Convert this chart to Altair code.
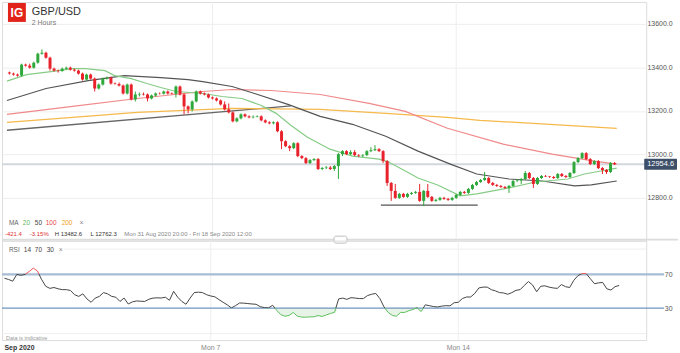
import altair as alt
import pandas as pd

GREEN = "#2fa83b"
RED = "#e8222a"

# ---- 2-hour GBP/USD bars (index 0 = Mon 31 Aug 2020 20:00) ----
first_open = 13376.0
closes = [13371.4, 13366.9, 13362.3, 13412.6, 13408.0, 13398.9, 13421.7, 13462.9, 13467.4, 13444.6,
          13394.3, 13385.1, 13382.9, 13394.3, 13398.9, 13389.7, 13385.1, 13371.4, 13344.0, 13366.9,
          13348.6, 13302.9, 13321.1, 13348.6, 13353.1, 13325.7, 13323.4, 13316.6, 13280.0, 13321.1,
          13252.6, 13275.4, 13277.7, 13275.4, 13257.1, 13270.9, 13280.0, 13279.0, 13289.1, 13280.0,
          13277.7, 13312.0, 13275.4, 13220.6, 13206.9, 13243.4, 13289.1, 13280.0, 13275.4, 13261.7,
          13257.1, 13248.0, 13229.7, 13206.9, 13193.1, 13152.0, 13165.7, 13184.0, 13174.9, 13170.3,
          13172.6, 13174.9, 13156.6, 13147.4, 13142.9, 13147.4, 13106.3, 13060.6, 13037.7, 13028.6,
          13051.4, 12992.0, 12982.9, 12960.0, 12973.7, 12978.3, 12932.6, 12937.1, 12939.4, 12932.6,
          12946.3, 13001.1, 13014.9, 13001.1, 13010.3, 12996.6, 12994.3, 12996.6, 13014.9, 13019.4,
          13024.0, 13014.9, 12969.1, 12868.6, 12832.0, 12800.0, 12818.3, 12804.6, 12818.3, 12822.9,
          12827.4, 12786.3, 12832.0, 12804.6, 12786.3, 12790.9, 12800.0, 12795.4, 12790.9, 12800.0,
          12813.7, 12827.4, 12822.9, 12841.1, 12859.4, 12873.1, 12882.3, 12891.4, 12868.6, 12859.4,
          12854.9, 12850.3, 12845.7, 12854.9, 12877.7, 12880.0, 12886.9, 12914.3, 12891.4, 12864.0,
          12891.4, 12900.6, 12898.3, 12896.0, 12891.4, 12909.7, 12900.6, 12896.0, 12914.3, 12964.6,
          12982.9, 13005.7, 12978.3, 12955.4, 12969.1, 12937.1, 12928.0, 12918.9, 12960.0, 12954.6]
highs = [13380.6, 13376.0, 13371.4, 13417.1, 13417.1, 13417.1, 13426.3, 13467.4, 13482.6, 13472.0,
         13449.1, 13398.9, 13389.7, 13398.9, 13403.4, 13403.4, 13394.3, 13389.7, 13376.0, 13371.4,
         13371.4, 13353.1, 13325.7, 13353.1, 13357.7, 13357.7, 13330.3, 13330.3, 13321.1, 13325.7,
         13325.7, 13289.1, 13284.6, 13284.6, 13280.0, 13275.4, 13284.6, 13284.6, 13293.7, 13293.7,
         13284.6, 13316.6, 13316.6, 13280.0, 13225.1, 13248.0, 13293.7, 13293.7, 13284.6, 13280.0,
         13266.3, 13261.7, 13252.6, 13243.4, 13234.3, 13197.7, 13170.3, 13188.6, 13188.6, 13179.4,
         13179.4, 13179.4, 13179.4, 13161.1, 13152.0, 13152.0, 13152.0, 13110.9, 13065.1, 13042.3,
         13056.0, 13056.0, 12996.6, 12987.4, 12978.3, 12982.9, 12982.9, 12941.7, 12946.3, 12946.3,
         12950.9, 13005.7, 13019.4, 13019.4, 13019.4, 13019.4, 13001.1, 13001.1, 13019.4, 13033.1,
         13042.3, 13028.6, 13019.4, 12973.7, 12873.1, 12864.0, 12822.9, 12822.9, 12822.9, 12827.4,
         12832.0, 12864.0, 12836.6, 12864.0, 12809.1, 12795.4, 12804.6, 12804.6, 12800.0, 12804.6,
         12818.3, 12832.0, 12832.0, 12845.7, 12864.0, 12877.7, 12886.9, 12918.9, 12896.0, 12873.1,
         12864.0, 12859.4, 12854.9, 12859.4, 12882.3, 12886.9, 12891.4, 12923.4, 12918.9, 12896.0,
         12896.0, 12905.1, 12905.1, 12900.6, 12900.6, 12914.3, 12914.3, 12905.1, 12918.9, 12969.1,
         12987.4, 13010.3, 13010.3, 12982.9, 12973.7, 12973.7, 12941.7, 12932.6, 12964.6, 12964.6]
lows = [13366.9, 13362.3, 13357.7, 13357.7, 13403.4, 13394.3, 13394.3, 13417.1, 13458.3, 13440.0,
        13385.1, 13380.6, 13376.0, 13380.6, 13389.7, 13385.1, 13380.6, 13366.9, 13339.4, 13339.4,
        13344.0, 13289.1, 13298.3, 13316.6, 13344.0, 13321.1, 13321.1, 13312.0, 13275.4, 13275.4,
        13248.0, 13243.4, 13266.3, 13270.9, 13243.4, 13252.6, 13266.3, 13275.4, 13275.4, 13275.4,
        13275.4, 13261.7, 13270.9, 13184.0, 13188.6, 13197.7, 13238.9, 13275.4, 13270.9, 13257.1,
        13252.6, 13243.4, 13225.1, 13202.3, 13188.6, 13147.4, 13147.4, 13161.1, 13170.3, 13165.7,
        13165.7, 13170.3, 13152.0, 13142.9, 13138.3, 13138.3, 13101.7, 13024.0, 13033.1, 13014.9,
        13024.0, 12987.4, 12978.3, 12955.4, 12955.4, 12969.1, 12928.0, 12928.0, 12932.6, 12928.0,
        12923.4, 12886.9, 12992.0, 12996.6, 12996.6, 12992.0, 12987.4, 12987.4, 12992.0, 13010.3,
        13014.9, 13010.3, 12960.0, 12854.9, 12786.3, 12795.4, 12795.4, 12800.0, 12800.0, 12813.7,
        12818.3, 12781.7, 12762.3, 12800.0, 12781.7, 12781.7, 12786.3, 12790.9, 12786.3, 12786.3,
        12795.4, 12809.1, 12818.3, 12818.3, 12836.6, 12854.9, 12868.6, 12877.7, 12864.0, 12854.9,
        12850.3, 12845.7, 12841.1, 12822.9, 12850.3, 12873.1, 12864.0, 12882.3, 12886.9, 12845.7,
        12859.4, 12886.9, 12896.0, 12891.4, 12886.9, 12886.9, 12896.0, 12891.4, 12891.4, 12909.7,
        12960.0, 12978.3, 12973.7, 12950.9, 12950.9, 12932.6, 12909.7, 12909.7, 12914.3, 12950.9]
rsi = [65.5, 64, 62, 70, 69, 70, 73.5, 77.5, 74, 64,
       56, 53.5, 54.5, 53, 52, 52, 51, 46, 44, 47,
       41, 37, 42, 44, 48.5, 47, 44, 43, 38, 42,
       35, 37.5, 38.6, 38.3, 38, 40.6, 42, 42.3, 42.1, 43,
       39.4, 50, 43, 38, 34.7, 42, 48.5, 49, 48.5, 46,
       44.5, 43.5, 40.2, 37, 34, 30.4, 33, 36.2, 36, 35.5,
       35, 34.7, 31.8, 30.8, 30.4, 33.5, 27.5, 22.3, 20.5, 21.5,
       25, 20.6, 19.5, 19.3, 19.8, 19.8, 21.3, 20.3, 22, 23.8,
       25, 41, 42, 40.5, 42.5, 42, 41.4, 41.4, 45, 46.5,
       47.5, 41.4, 31.5, 25, 21.5, 20.5, 25, 25, 27, 28.5,
       30.5, 26, 34, 33, 32, 31.5, 32.5, 33, 32.8, 36.5,
       37, 41.5, 43.3, 43.3, 47.5, 54, 55, 55, 52, 50.5,
       48.5, 48, 46.5, 48.5, 51.2, 52, 57, 61.5, 57.5, 49.5,
       56, 56.5, 55, 54, 53.5, 58, 55.5, 54.5, 63, 68.5,
       71, 71, 65, 59, 60, 60.5, 53, 51.5, 55.5, 57]

# ---- moving averages read at sampled bar positions ----
ma20_i = [-0.6, 4.22, 10.24, 15.54, 18.68, 23.5, 25.91, 30.0, 33.86, 37.23, 41.09, 47.59, 52.41,
          57.23, 62.05, 65.67, 69.28, 73.38, 78.92, 84.46, 90.97, 93.37, 97.47, 100.6, 105.42,
          110.97, 115.06, 123.01, 129.52, 137.47, 141.57, 145.67, 149.52]
ma20_p = [13337.1, 13366.9, 13380.6, 13394.3, 13394.3, 13385.1, 13362.3, 13348.6, 13325.7, 13307.4,
          13289.1, 13280.0, 13266.3, 13257.1, 13225.1, 13188.6, 13133.7, 13078.9, 13024.0, 12992.0,
          12978.3, 12964.6, 12923.4, 12891.4, 12859.4, 12809.1, 12818.3, 12845.7, 12873.1, 12886.9,
          12909.7, 12923.4, 12937.1]
ma50_i = [-0.6, 9.04, 19.4, 28.32, 37.23, 43.98, 47.59, 54.82, 60.36, 68.56, 76.51, 84.46, 92.65,
          100.6, 108.56, 115.06, 123.01, 131.21, 139.16, 143.26, 149.52]
ma50_p = [13248.0, 13302.9, 13339.4, 13362.3, 13353.1, 13344.0, 13334.9, 13312.0, 13280.0, 13229.7,
          13174.9, 13138.3, 13083.4, 13014.9, 12955.4, 12909.7, 12886.9, 12877.7, 12854.9, 12859.4,
          12877.7]
ma100_i = [-0.6, 15.54, 31.45, 47.59, 54.82, 64.46, 76.51, 88.56, 97.47, 107.83, 121.57, 133.61,
           143.98, 149.52]
ma100_p = [13184.0, 13220.6, 13257.1, 13289.1, 13298.3, 13293.7, 13275.4, 13234.3, 13197.7, 13120.0,
           13046.9, 13001.1, 12969.1, 12955.4]
ma200_i = [-0.6, 15.54, 31.45, 54.82, 76.51, 92.65, 107.83, 115.8, 149.52]
ma200_p = [13147.4, 13170.3, 13193.1, 13211.4, 13206.9, 13188.6, 13170.3, 13156.6, 13120.0]

trend_i = [-0.6, 69.28]
trend_p = [13110.9, 13222.9]
support_i = [91.45, 115.3]
support_p = 12766.6
last_price = 12954.6

price_ticks = [12800, 13000, 13200, 13400, 13600]
rsi_ticks = [30, 70]
day_ticks = [50, 110]
day_labels = ["Mon 7", "Mon 14"]

N = len(closes)
assert len(highs) == N and len(lows) == N and len(rsi) == N

FONT = "Liberation Sans"
W = 648
H_TOP = 240
H_RSI = 100

xs = alt.Scale(domain=[-0.6, 155.55], nice=False, zero=False)
ys = alt.Scale(domain=[12603.4, 13700.6], nice=False, zero=False)
rs = alt.Scale(domain=[-7.65, 110], nice=False, zero=False)

yax = alt.Axis(orient="right", values=price_ticks, format=".1f", labelPadding=26, labelAlign="right",
               labelFontSize=7, labelColor="#555555", domain=False, ticks=False, grid=True,
               gridColor="#eeeeee", gridWidth=1, title=None, labelFont=FONT)
rax = alt.Axis(orient="right", values=rsi_ticks, format="d", labelPadding=26, labelAlign="right",
               labelFontSize=7, labelColor="#555555", domain=False, ticks=False, grid=False,
               title=None, labelFont=FONT)


def X(field="i"):
    return alt.X(f"{field}:Q", scale=xs, axis=None)


def Y(field):
    return alt.Y(f"{field}:Q", scale=ys, axis=yax)


def RY(field):
    return alt.Y(f"{field}:Q", scale=rs, axis=rax)


def label(text, x, y, size=7, color="#555555", weight="normal", align="left"):
    return alt.Chart(pd.DataFrame({"t": [text]})).mark_text(
        align=align, baseline="middle", fontSize=size, color=color, fontWeight=weight, font=FONT
    ).encode(x=alt.value(x), y=alt.value(y), text="t:N")


opens = [first_open] + closes[:-1]
candles = pd.DataFrame({"i": list(range(N)), "open": opens, "close": closes, "high": highs, "low": lows})
candles["dir"] = ["up" if c >= o else "down" for o, c in zip(opens, closes)]
up_df = candles[candles["dir"] == "up"]
down_df = candles[candles["dir"] == "down"]

vgrid = alt.Chart(pd.DataFrame({"i": day_ticks})).mark_rule(color="#eeeeee", strokeWidth=1).encode(x=X())

price_line = alt.Chart(pd.DataFrame({"p": [last_price]})).mark_rule(
    color="#d2d7de", strokeWidth=2).encode(y=Y("p"))

trend = alt.Chart(pd.DataFrame({"i": trend_i, "p": trend_p})).mark_line(
    color="#666666", strokeWidth=1.3, clip=True).encode(x=X(), y=Y("p"))

support = alt.Chart(pd.DataFrame({"a": [support_i[0]], "b": [support_i[1]], "p": [support_p]})).mark_rule(
    color="#555555", strokeWidth=1.4).encode(x=X("a"), x2="b:Q", y=Y("p"))


def ma_line(ii, pp, color):
    return alt.Chart(pd.DataFrame({"i": ii, "p": pp})).mark_line(
        strokeWidth=1.2, clip=True, color=color).encode(x=X(), y=Y("p"))


mas = [ma_line(ma200_i, ma200_p, "#f6b94c"), ma_line(ma100_i, ma100_p, "#f08a8a"),
       ma_line(ma50_i, ma50_p, "#555555"), ma_line(ma20_i, ma20_p, "#86cc86")]


def candle_layers(df, color):
    w = alt.Chart(df).mark_rule(strokeWidth=1, color=color).encode(x=X(), y=Y("low"), y2="high:Q")
    b = alt.Chart(df).mark_bar(size=3, color=color).encode(x=X(), y=Y("open"), y2="close:Q")
    return [w, b]


candle_marks = candle_layers(up_df, GREEN) + candle_layers(down_df, RED)

box_df = pd.DataFrame({"p": [last_price], "lo": [last_price - 25.0], "hi": [last_price + 25.0],
                       "t": [f"{last_price:.1f}"]})
pbox = alt.Chart(box_df).mark_rect(color="#3c4e68", cornerRadius=1).encode(
    x=alt.value(646), x2=alt.value(679), y=Y("lo"), y2="hi:Q")
ptext = alt.Chart(box_df).mark_text(color="white", fontSize=7.5, align="center", baseline="middle",
                                    font=FONT).encode(x=alt.value(662.5), y=Y("p"), text="t:N")

logo = alt.Chart(pd.DataFrame({"a": [0]})).mark_rect(color="#e2231a").encode(
    x=alt.value(6), x2=alt.value(24), y=alt.value(1), y2=alt.value(20))

separator = alt.Chart(pd.DataFrame({"a": [0]})).mark_rule(color="#dcdcdc", strokeWidth=2).encode(
    x=alt.value(0), x2=alt.value(680), y=alt.value(239))
handle = alt.Chart(pd.DataFrame({"a": [0]})).mark_rect(
    fill="white", stroke="#bdbdbd", strokeWidth=1, cornerRadius=2).encode(
    x=alt.value(334), x2=alt.value(347), y=alt.value(235.5), y2=alt.value(242.5))

top = alt.layer(
    vgrid, price_line, trend, support, *mas, *candle_marks, pbox, ptext, logo,
    label("IG", 15, 11, size=12, color="white", weight="bold", align="center"),
    label("GBP/USD", 30, 10, size=11, color="#333333"),
    label("2 Hours", 30, 21, size=7, color="#777777"),
    label("MA", 7, 222, size=6.5, color="#666666"),
    label("20", 21, 222, size=6.5, color="#5cb85c"),
    label("50", 33, 222, size=6.5, color="#444444"),
    label("100", 44, 222, size=6.5, color="#e8484a"),
    label("200", 60, 222, size=6.5, color="#f0a020"),
    label("×", 78, 222, size=7, color="#888888"),
    label("-421.4", 3, 233.5, size=6, color="#e03030"),
    label("-3.15%", 28, 233.5, size=6, color="#e03030"),
    label("H 13482.6", 53, 233.5, size=6, color="#333333"),
    label("L 12762.3", 89, 233.5, size=6, color="#333333"),
    label("Mon 31 Aug 2020 20:00 - Fri 18 Sep 2020 12:00", 123, 233.5, size=6, color="#888888"),
    separator, handle,
).properties(width=W, height=H_TOP)

# ---- RSI panel ----
rsi_df = pd.DataFrame({"i": list(range(N)), "rsi": rsi})
vmax, vmin = max(rsi), min(rsi)
o70 = (vmax - 70) / (vmax - vmin)
o30 = (vmax - 30) / (vmax - vmin)
grad = alt.Gradient(gradient="linear", x1=0, x2=0, y1=0, y2=1, stops=[
    alt.GradientStop(offset=0, color="#f05555"), alt.GradientStop(offset=o70, color="#f05555"),
    alt.GradientStop(offset=o70, color="#444444"), alt.GradientStop(offset=o30, color="#444444"),
    alt.GradientStop(offset=o30, color="#5cbf5c"), alt.GradientStop(offset=1, color="#5cbf5c")])

rgrid_v = alt.Chart(pd.DataFrame({"i": day_ticks})).mark_rule(color="#eeeeee", strokeWidth=1).encode(x=X())
rgrid_top = alt.Chart(pd.DataFrame({"v": [100]})).mark_rule(color="#eeeeee").encode(
    x=alt.value(62), x2=alt.value(W), y=RY("v"))
rgrid_bot = alt.Chart(pd.DataFrame({"v": [0]})).mark_rule(color="#eeeeee").encode(
    x=alt.value(0), x2=alt.value(W), y=RY("v"))
l70 = alt.Chart(pd.DataFrame({"v": [70]})).mark_rule(color="#a7bdd4", strokeWidth=2.4).encode(
    x=alt.value(0), x2=alt.value(666), y=RY("v"))
l30 = alt.Chart(pd.DataFrame({"v": [30]})).mark_rule(color="#6f95bf", strokeWidth=1.3).encode(
    x=alt.value(0), x2=alt.value(666), y=RY("v"))
rarea = alt.Chart(rsi_df).transform_calculate(lo="min(datum.rsi, 30)", thr="30").mark_area(
    color="#e4f2e4", opacity=0.9).encode(x=X(), y=alt.Y("lo:Q", scale=rs, axis=rax), y2="thr:Q")
rline = alt.Chart(rsi_df).mark_line(strokeWidth=1, stroke=grad, clip=True).encode(x=X(), y=RY("rsi"))

xlabels = alt.Chart(pd.DataFrame({"i": day_ticks, "t": day_labels})).mark_text(
    align="center", baseline="middle", fontSize=7, color="#888888", font=FONT).encode(
    x=X(), y=alt.value(108), text="t:N")
xfirst = alt.Chart(pd.DataFrame({"i": [0], "t": ["Sep 2020"]})).mark_text(
    align="left", baseline="middle", fontSize=7, color="#333333", fontWeight="bold", font=FONT).encode(
    x=X(), y=alt.value(108), text="t:N")

bottom = alt.layer(
    rgrid_v, rgrid_top, rgrid_bot, rarea, l70, l30, rline, xlabels, xfirst,
    label("RSI", 7, 9, size=6.5, color="#666666"),
    label("14", 22, 9, size=6.5, color="#444444"),
    label("70", 33, 9, size=6.5, color="#444444"),
    label("30", 45, 9, size=6.5, color="#444444"),
    label("×", 57, 9, size=7, color="#888888"),
    label("Data is indicative", 4, 98, size=5.5, color="#9a9a9a"),
).properties(width=W, height=H_RSI)

chart = alt.vconcat(top, bottom, spacing=0, bounds="flush").properties(
    padding=0, background="white").configure_view(stroke=None).configure(font=FONT)

chart.save("out.html", embed_options={"renderer": "svg", "actions": False})
